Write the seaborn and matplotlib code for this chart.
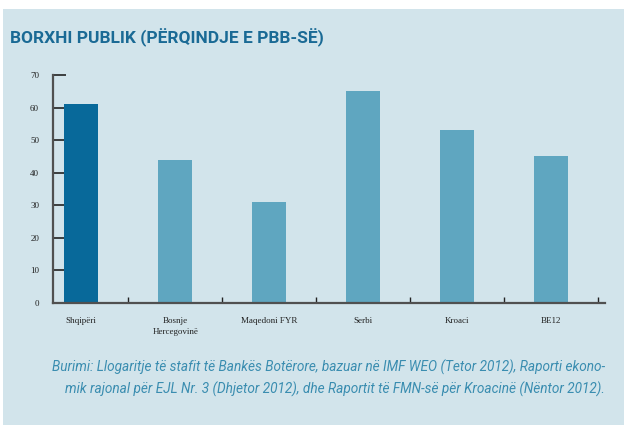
import matplotlib
matplotlib.use("Agg")
import matplotlib.pyplot as plt
import seaborn as sns
import pandas as pd
from matplotlib.patches import Rectangle

categories = ["Shqipëri", "Bosnje\nHercegovinë", "Maqedoni FYR", "Serbi", "Kroaci", "BE12"]
debt = [61, 44, 31, 65, 53, 45]
yticks = [0, 10, 20, 30, 40, 50, 60, 70]
title = "BORXHI PUBLIK (PËRQINDJE E PBB-SË)"
source = ("Burimi: Llogaritje të stafit të Bankës Botërore, bazuar në IMF WEO (Tetor 2012), Raporti ekono-\n"
          "mik rajonal për EJL Nr. 3 (Dhjetor 2012), dhe Raportit të FMN-së për Kroacinë (Nëntor 2012).")

BG = "#d2e4eb"
DARK = "#08699a"
LIGHT = "#5fa6c0"
SPINE = "#505050"

sns.set_style("white")
plt.rcParams["font.family"] = ["DejaVu Sans"]

fig = plt.figure(figsize=(6.24, 4.28), dpi=100, facecolor="white")
bg = Rectangle((3 / 624, 3 / 428), 621 / 624, (425 - 9) / 428,
               transform=fig.transFigure, facecolor=BG, edgecolor="none", zorder=-10)
fig.add_artist(bg)

ax = fig.add_axes([53 / 624, 1 - 303 / 428, (605 - 53) / 624, (303 - 75) / 428])
ax.set_facecolor("none")
ax.set_zorder(5)

df = pd.DataFrame({"cat": categories, "val": debt})
palette = {c: (DARK if i == 0 else LIGHT) for i, c in enumerate(categories)}
sns.barplot(data=df, x="cat", y="val", hue="cat", palette=palette, width=0.36,
            legend=False, saturation=1, ax=ax, zorder=2, linewidth=0, edgecolor="none")

ax.set_xlim(-0.30, 5.57)
ax.set_ylim(0, 70)
ax.set_yticks(yticks)
ax.set_xlabel("")
ax.set_ylabel("")

for s in ["top", "right"]:
    ax.spines[s].set_visible(False)
for s in ["left", "bottom"]:
    ax.spines[s].set_color(SPINE)
    ax.spines[s].set_linewidth(1.6)
    ax.spines[s].set_zorder(3)

serif = ["Liberation Serif", "DejaVu Serif"]
ax.tick_params(axis="y", left=True, direction="in", length=9, width=1.2, color="#222222",
               pad=10, labelsize=6.5, labelcolor="#222222")
ax.tick_params(axis="x", which="major", bottom=True, length=0, pad=10, labelsize=6.5,
               labelcolor="#222222")
ax.set_xticks([i + 0.5 for i in range(len(categories))], minor=True)
ax.tick_params(axis="x", which="minor", bottom=True, direction="in", length=4, width=1.0,
               color="#222222")
for lab in ax.get_xticklabels() + ax.get_yticklabels():
    lab.set_family(serif)
for lab in ax.get_xticklabels():
    lab.set_linespacing(1.5)

fig.text(10 / 624, 1 - 43 / 428, title, fontsize=12.5, fontweight="bold", color="#1a6a95",
         family=["Roboto", "DejaVu Sans"], ha="left", va="baseline")

fig.text(605 / 624, 1 - 360 / 428, source, fontsize=9.85, style="italic",
         color="#3a8db0", family=["Roboto", "DejaVu Sans"], ha="right", va="top",
         multialignment="right", linespacing=1.5)

fig.savefig("out.png", dpi=100, facecolor="white")
